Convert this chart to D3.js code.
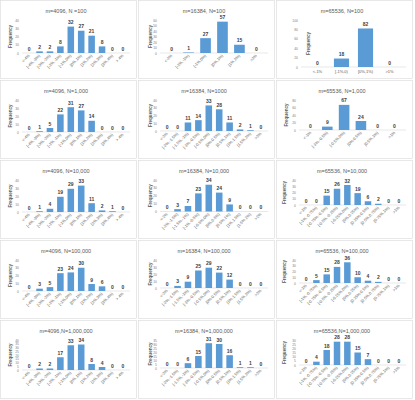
<!DOCTYPE html>
<html>
<head>
<meta charset="utf-8">
<script src="https://cdn.jsdelivr.net/npm/d3@7"></script>
<style>
  body { margin: 0; background: #fff; }
  svg { font-family: "Liberation Sans", Arial, sans-serif; }
</style>
</head>
<body>
<div id="chart"></div>
<script>
// bin labels
const cats4096 = ["<-4%", "[-4%,-3%)", "[-3%,-2%)", "[-2%,-1%)", "[-1%,0%)", "[0%,1%)", "[1%,2%)", "[2%,3%)", "[3%,4%)", "> 4%"];
const cats16384a = ["<-2%", "[-2%,-1%)", "[-1%,0%)", "[0%,1%)", "[1%,2%)", ">2%"];
const cats16384b = ["<-2%", "[-2%,-1.5%)", "[-1.5%,-1%)", "[-1%,-0.5%)", "[-0.5%,0%)", "[0%,0.5%)", "[0.5%,1%)", "[1%,1.5%)", "[1.5%,2%)", ">2%"];
const cats65536a = ["<-1%", "[-1%,0)", "[0%,1%)", ">1%"];
const cats65536b = ["<-1%", "[-1%,-0.5%)", "[-0.5%,0%)", "[0%,0.5%)", "[0.5%,1%)", ">1%"];
const cats65536c = ["<-1%", "[-1%,-0.75%)", "[-0.75%,-0.5%)", "[-0.5%,-0.25%)", "[-0.25%,0%)", "[0%,0.25%)", "[0.25%,0.5%)", "[0.5%,0.75%)", "[0.75%,1%)", ">1%"];

// frequencies, one array per panel
const m4096N100 = [0, 2, 2, 8, 32, 27, 21, 8, 0, 0];
const m16384N100 = [0, 1, 27, 57, 15, 0];
const m65536N100 = [0, 18, 82, 0];
const m4096N1k = [0, 1, 5, 22, 31, 27, 14, 0, 0, 0];
const m16384N1k = [0, 0, 11, 14, 33, 28, 11, 2, 1, 0];
const m65536N1k = [0, 9, 67, 24, 0, 0];
const m4096N10k = [0, 1, 4, 19, 29, 33, 11, 2, 1, 0];
const m16384N10k = [0, 3, 7, 23, 34, 24, 9, 0, 0, 0];
const m65536N10k = [0, 0, 15, 26, 32, 19, 6, 2, 0, 0];
const m4096N100k = [0, 3, 5, 23, 24, 30, 9, 6, 0, 0];
const m16384N100k = [0, 3, 9, 25, 29, 22, 12, 0, 0, 0];
const m65536N100k = [0, 5, 15, 28, 36, 10, 4, 2, 0, 0];
const m4096N1m = [0, 2, 2, 17, 33, 34, 8, 4, 0, 0];
const m16384N1m = [0, 0, 6, 15, 31, 30, 16, 1, 1, 0];
const m65536N1m = [0, 4, 18, 28, 28, 15, 7, 0, 0, 0];

const titles = [
  "m=4096, N =100", "m=16384, N=100", "m=65536, N=100",
  "m=4096, N=1,000", "m=16384, N=1000", "m=65536, N=1,000",
  "m=4096, N=10,000", "m=16384, N=10,000", "m=65536, N=10,000",
  "m=4096, N=100,000", "m=16384, N=100,000", "m=65536, N=100,000",
  "m=4096,N=1,000,000", "m=16384, N=1,000,000", "m=65536,N=1,000,000"
];
// y axis ticks: max and step
const yMax = [40, 60, 100, 40, 40, 80, 40, 40, 40, 40, 40, 40, 40, 35, 30];
const yStep = [10, 10, 20, 10, 10, 20, 10, 10, 10, 10, 10, 10, 5, 5, 5];

const panels = [
  [cats4096, m4096N100], [cats16384a, m16384N100], [cats65536a, m65536N100],
  [cats4096, m4096N1k], [cats16384b, m16384N1k], [cats65536b, m65536N1k],
  [cats4096, m4096N10k], [cats16384b, m16384N10k], [cats65536c, m65536N10k],
  [cats4096, m4096N100k], [cats16384b, m16384N100k], [cats65536c, m65536N100k],
  [cats4096, m4096N1m], [cats16384b, m16384N1m], [cats65536c, m65536N1m]
];

// layout of each panel (plot bottom, left, frequency label x)
const baseline = [53, 53, 67, 52, 51, 50, 52, 51.5, 45, 51, 48, 43, 50, 48, 45];
const plotLeft = [22, 22, 25, 22, 22, 23, 22, 22, 23, 22, 22, 23, 22, 22, 23];
const freqX = [10, 12, 32, 10, 12, 10, 10, 12, 8, 10, 12, 8, 10, 12, 8];

const W = 415, H = 400, cellW = 138, cellH = 80;

const svg = d3.select("#chart").append("svg")
  .attr("width", W)
  .attr("height", H);

svg.append("rect").attr("width", W).attr("height", H).attr("fill", "#fff");

panels.forEach(function (p, i) {
  const cats = p[0], vals = p[1];
  const col = i % 3, row = Math.floor(i / 3);
  const g = svg.append("g")
    .attr("transform", "translate(" + (col * cellW) + "," + (row * cellH) + ")");

  g.append("rect")
    .attr("x", 0.5).attr("y", 0.5)
    .attr("width", cellW - 2).attr("height", cellH - 2)
    .attr("fill", "#fff")
    .attr("stroke", "#d9d9d9")
    .attr("stroke-width", 0.6);

  const top = 20, bottom = baseline[i];
  const left = plotLeft[i], right = 130;

  g.append("text")
    .attr("x", 66).attr("y", 12.5)
    .attr("text-anchor", "middle")
    .attr("font-size", 5.5)
    .attr("fill", "#595959")
    .text(titles[i]);

  const y = d3.scaleLinear().domain([0, yMax[i]]).range([bottom, top]);
  const x = d3.scaleBand().domain(cats).range([left, right]).padding(0.37);

  const yAxis = g.append("g")
    .attr("transform", "translate(" + (left - 1) + ",0)")
    .call(d3.axisLeft(y).tickValues(d3.range(0, yMax[i] + 0.01, yStep[i])).tickSize(0).tickPadding(2));
  yAxis.select(".domain").remove();
  yAxis.selectAll("text").attr("font-size", 3.4).attr("fill", "#7f7f7f").attr("font-family", null);

  g.append("text")
    .attr("transform", "translate(" + freqX[i] + "," + ((top + bottom) / 2) + ")rotate(-90)")
    .attr("text-anchor", "middle")
    .attr("dy", "0.35em")
    .attr("font-size", 4.6)
    .attr("font-weight", "bold")
    .attr("fill", "#595959")
    .text("Frequency");

  g.append("line")
    .attr("x1", left).attr("x2", right)
    .attr("y1", bottom).attr("y2", bottom)
    .attr("stroke", "#d9d9d9").attr("stroke-width", 0.6);

  //Bars
  g.selectAll("rect.bar")
    .data(vals)
    .enter()
    .append("rect")
    .attr("class", "bar")
    .attr("x", function (d, j) { return x(cats[j]); })
    .attr("y", function (d) { return y(d); })
    .attr("width", x.bandwidth())
    .attr("height", function (d) { return bottom - y(d); })
    .attr("fill", "#5b9bd5");

  g.selectAll("text.val")
    .data(vals)
    .enter()
    .append("text")
    .attr("class", "val")
    .attr("x", function (d, j) { return x(cats[j]) + x.bandwidth() / 2; })
    .attr("y", function (d) { return y(d) - 2.5; })
    .attr("text-anchor", "middle")
    .attr("font-size", 5)
    .attr("font-weight", "bold")
    .attr("fill", "#404040")
    .text(function (d) { return d; });

  const xl = g.selectAll("text.cat")
    .data(cats)
    .enter()
    .append("text")
    .attr("class", "cat")
    .attr("font-size", 4)
    .attr("fill", "#595959")
    .text(function (d) { return d; });
  if (cats.length > 4) {
    xl.attr("text-anchor", "end")
      .attr("transform", function (d) {
        return "translate(" + (x(d) + x.bandwidth() / 2 + 1) + "," + (bottom + 3) + ")rotate(-45)";
      });
  } else {
    xl.attr("text-anchor", "middle")
      .attr("x", function (d) { return x(d) + x.bandwidth() / 2; })
      .attr("y", bottom + 6);
  }
});
</script>
</body>
</html>
